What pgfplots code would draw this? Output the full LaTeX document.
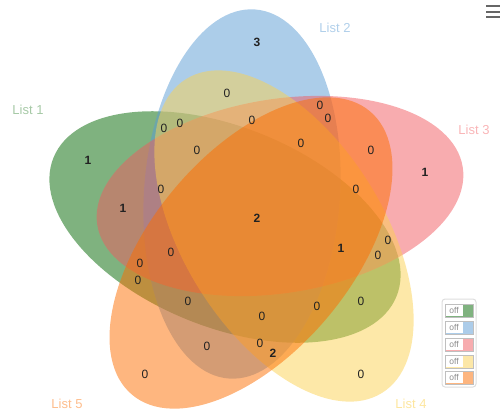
\documentclass[border=0pt]{standalone}
\usepackage{pgfplots}
\usepackage{pgfplotstable}
\pgfplotsset{compat=1.18}
\usepackage{fontspec}
\setmainfont{Liberation Sans}
\definecolor{c1}{HTML}{006600}
\definecolor{c2}{HTML}{5A9BD4}
\definecolor{c3}{HTML}{F15A60}
\definecolor{c4}{HTML}{FBD151}
\definecolor{c5}{HTML}{FD6D00}
\definecolor{numc}{HTML}{222222}

% region counts: x, y (pixels from top-left), value
\pgfplotstableread{
x y n
257 42 3
88 160 1
425 172 1
123 208 1
257 218 2
341 248 1
273 353 2
}\nonzero
\pgfplotstableread{
x y n
227 93 0
320 105 0
164 128 0
180 123 0
252 120 0
328 118 0
197 150 0
301 143 0
371 150 0
161 189 0
356 189 0
388 240 0
378 255 0
171 252 0
140 263 0
138 280 0
188 301 0
317 306 0
361 301 0
262 316 0
207 346 0
260 343 0
145 374 0
361 374 0
}\zeros

\newcommand{\switch}[2]{%
  \draw[draw=black!25,line width=0.6pt,fill=white] (axis cs:445,#1) rectangle (axis cs:473,#1+13);
  \fill[#2,fill opacity=0.5] (axis cs:463,#1+0.5) rectangle (axis cs:472.5,#1+12.5);
  \draw[#2!50,line width=0.8pt] (axis cs:445.5,#1+12.6) -- (axis cs:463,#1+12.6);
  \node[font=\fontsize{8.5}{9}\selectfont,text=black!45,anchor=center] at (axis cs:454,#1+6.5) {off};
}
\newcommand{\setname}[4]{%
\addplot[draw=none,mark=none,nodes near coords,point meta=explicit symbolic,
  nodes near coords style={anchor=center,font=\fontsize{13}{15}\selectfont,text=#4}]
  coordinates {(#1,#2) [#3]};
}
\newcommand{\setshape}[6]{% color, cx, cy, angle, a, b
\draw[overlay,draw=none,fill=#1,fill opacity=0.5,rotate around={-#4:(axis cs:#2,#3)}] (axis cs:#2,#3) ellipse [x radius=#5pt,y radius=#6pt];
}

\begin{document}
\begin{tikzpicture}
\begin{axis}[width=500pt,height=413pt,scale only axis,
  xmin=0,xmax=500,ymin=0,ymax=413,y dir=reverse,
  hide axis,clip=false]
% the five sets
\setshape{c1}{225}{227}{22}{185}{100}
\setshape{c2}{242}{194}{94}{185}{98}
\setshape{c3}{280}{196}{171}{185}{97}
\setshape{c4}{284}{236}{238}{185}{100}
\setshape{c5}{251}{253}{310}{185}{100}

% counts
\addplot[draw=none,mark=none,nodes near coords,point meta=explicit symbolic,
  nodes near coords style={anchor=center,font=\fontsize{12}{13}\selectfont\bfseries,text=numc}]
  table[x=x,y=y,meta=n]{\nonzero};
\addplot[draw=none,mark=none,nodes near coords,point meta=explicit symbolic,
  nodes near coords style={anchor=center,font=\fontsize{12}{13}\selectfont,text=numc}]
  table[x=x,y=y,meta=n]{\zeros};

% set names
\setname{28}{110}{List 1}{c1!35}
\setname{335}{28}{List 2}{c2!48}
\setname{474}{130}{List 3}{c3!45}
\setname{411}{404}{List 4}{c4!55}
\setname{67}{404}{List 5}{c5!45}

% switch panel
\draw[rounded corners=3pt,draw=black!13,line width=1pt,fill=white] (axis cs:442,299) rectangle (axis cs:476,387);
\switch{304}{c1}
\switch{321}{c2}
\switch{338}{c3}
\switch{355}{c4}
\switch{371}{c5}
% menu icon
\draw[black!60,line width=2pt] (axis cs:486,6) -- (axis cs:500,6);
\draw[black!60,line width=2pt] (axis cs:486,11.5) -- (axis cs:500,11.5);
\draw[black!60,line width=2pt] (axis cs:486,17) -- (axis cs:500,17);
\end{axis}
\pgfresetboundingbox
\path[use as bounding box] (current axis.south west) rectangle (current axis.north east);
\end{tikzpicture}
\end{document}
